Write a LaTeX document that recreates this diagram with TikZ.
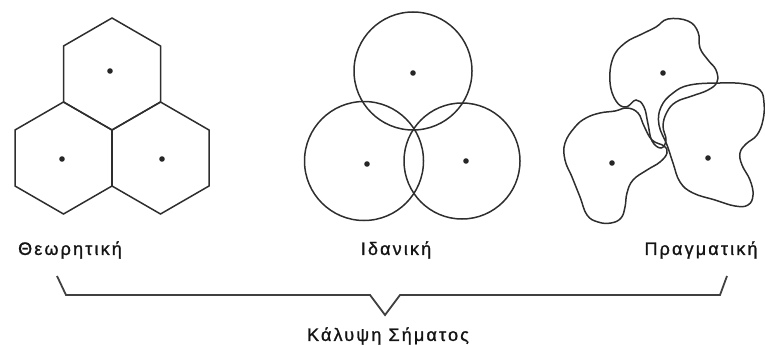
\documentclass[tikz,border=0pt]{standalone}
\usepackage{fontspec}
\setmainfont{Liberation Sans}
\newfontfamily\lblfont[LetterSpace=12,FakeBold=1.2]{Liberation Sans}
\begin{document}
\begin{tikzpicture}[x=1pt,y=-1pt,
  shapeline/.style={draw=black!82, line width=1.5pt},
  bracketline/.style={draw=black!75, line width=1.8pt, line join=miter},
  dot/.style={fill=black!85, draw=none},
  lbl/.style={font=\lblfont\fontsize{18}{21}\selectfont, text=black!92, inner sep=0pt}]
\useasboundingbox (0,0) rectangle (765,345);
% --- Theoretical: hexagons
\coordinate (h1) at (112,74);
\coordinate (h2) at (63.5,158);
\coordinate (h3) at (160.5,158);
\foreach \c in {h1,h2,h3}{
  \draw[shapeline] (\c) +(30:56) -- +(90:56) -- +(150:56) -- +(210:56) -- +(270:56) -- +(330:56) -- cycle;
}
\fill[dot] (110,71) circle (2.8);
\fill[dot] (62,159) circle (2.8);
\fill[dot] (162,159) circle (2.8);
% --- Ideal: circles
\coordinate (c1) at (413,71);
\coordinate (c2) at (364,161);
\coordinate (c3) at (462,161);
\draw[shapeline] (c1) circle (59);
\draw[shapeline] (c2) circle (59.5);
\draw[shapeline] (c3) circle (58);
\fill[dot] (413,73) circle (2.8);
\fill[dot] (367,164) circle (2.8);
\fill[dot] (466,161) circle (2.8);
% --- Real: irregular blobs
\draw[shapeline] plot[smooth cycle, tension=0.7] coordinates {
  (668,19) (688,21) (698,32) (700,48) (708,60) (716,70) (717,82) (708,90)
  (692,96) (676,102) (667,112) (663,126) (666,140) (661,148) (652,141)
  (648,124) (644,107) (636,100) (626,107) (616,101) (610,82) (613,58)
  (625,43) (642,34) (656,27)};
\draw[shapeline] plot[smooth cycle, tension=0.7] coordinates {
  (565,143) (575,127) (586,118) (600,113) (615,111) (627,108) (638,113)
  (644,126) (652,140) (664,146) (667,153) (660,162) (647,170) (633,180)
  (627,193) (625,207) (621,218) (611,223) (598,222) (587,215) (580,197)
  (572,177) (565,160)};
\draw[shapeline] plot[smooth cycle, tension=0.7] coordinates {
  (673,93) (690,85) (720,83) (745,84) (760,90) (764,103) (763,120)
  (757,135) (746,144) (740,153) (742,165) (750,180) (753,195) (748,205)
  (735,206) (715,200) (693,193) (680,182) (673,163) (667,145) (659,125)
  (661,107)};
\fill[dot] (663,73) circle (2.8);
\fill[dot] (612,163) circle (2.8);
\fill[dot] (708,158) circle (2.8);
% --- labels
\node[lbl] (t1) at (70,250) {Θεωρητική};
\node[lbl] (t2) at (396,250) {Ιδανική};
\node[lbl] (t3) at (701,250) {Πραγματική};
\node[lbl] (t4) at (388,336) {Κάλυψη Σήματος};
% --- brace
\coordinate (bl) at (57,276);
\coordinate (bl2) at (66,295);
\coordinate (d1) at (370,295);
\coordinate (d2) at (385,315);
\coordinate (d3) at (400,295);
\coordinate (br2) at (720,295);
\coordinate (br) at (727,276);
\draw[bracketline] (bl) -- (bl2) -- (d1) -- (d2) -- (d3) -- (br2) -- (br);
\end{tikzpicture}
\end{document}
